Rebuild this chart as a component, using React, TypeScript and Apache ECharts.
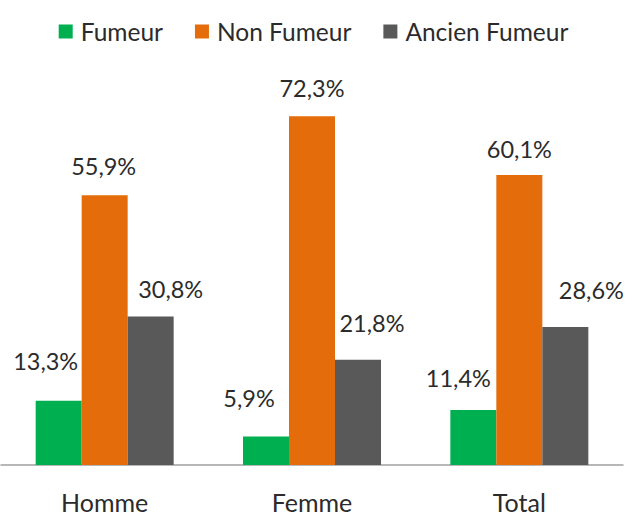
import React, { useEffect, useRef } from "react";
import * as echarts from "echarts";

const CATEGORIES = ["Homme", "Femme", "Total"];
const SERIES_NAMES = ["Fumeur", "Non Fumeur", "Ancien Fumeur"];
const FUMEUR = [13.3, 5.9, 11.4];
const NON_FUMEUR = [55.9, 72.3, 60.1];
const ANCIEN_FUMEUR = [30.8, 21.8, 28.6];

const COLORS = ["#00B050", "#E46C0A", "#595959"];
// label offsets (style only), per series, per category
const LABEL_OFFSETS: number[][][] = [
  [[-13, -28], [-17, -27], [-15, -20]],
  [[-1, -17], [0, -16], [0, -14]],
  [[20, -15], [14, -25], [26, -25]],
];

const FONT = "Lato, 'Open Sans', sans-serif";
const TEXT_COLOR = "#2b2b2b";

const fmt = (v: number) => v.toFixed(1).replace(".", ",") + "%";

export default function App() {
  const ref = useRef<HTMLDivElement>(null);
  useEffect(() => {
    if (!ref.current) return;
    const chart = echarts.init(ref.current, null, { renderer: "svg" });
    const values = [FUMEUR, NON_FUMEUR, ANCIEN_FUMEUR];
    chart.setOption({
      animation: false,
      backgroundColor: "#ffffff",
      legend: {
        top: 14,
        left: "center",
        itemWidth: 14,
        itemHeight: 14,
        itemGap: 32,
        icon: "rect",
        data: SERIES_NAMES,
        textStyle: {
          fontFamily: FONT,
          fontSize: 24.5,
          color: TEXT_COLOR,
          padding: [0, 0, 0, 3],
        },
      },
      grid: { left: 1, right: 4, top: 79, bottom: 53, containLabel: false },
      xAxis: {
        type: "category",
        data: CATEGORIES,
        axisTick: { show: false },
        axisLine: { lineStyle: { color: "#A0A0A0", width: 1.5 } },
        axisLabel: {
          margin: 28,
          fontFamily: FONT,
          fontSize: 25,
          lineHeight: 18,
          color: TEXT_COLOR,
        },
      },
      yAxis: {
        type: "value",
        min: 0,
        max: 80,
        show: false,
        splitLine: { show: false },
      },
      series: SERIES_NAMES.map((name, si) => ({
        name,
        type: "bar",
        barWidth: 46,
        barGap: "0%",
        itemStyle: { color: COLORS[si] },
        data: values[si].map((v, ci) => ({
          value: v,
          label: { offset: LABEL_OFFSETS[si][ci] },
        })),
        label: {
          show: true,
          position: "top",
          distance: 0,
          fontFamily: FONT,
          fontSize: 23.5,
          color: TEXT_COLOR,
          formatter: (p: any) => fmt(p.value),
        },
      })),
    });
    return () => chart.dispose();
  }, []);
  return (
    <div
      ref={ref}
      style={{ position: "fixed", left: 0, top: 0, width: 627, height: 518 }}
    />
  );
}
